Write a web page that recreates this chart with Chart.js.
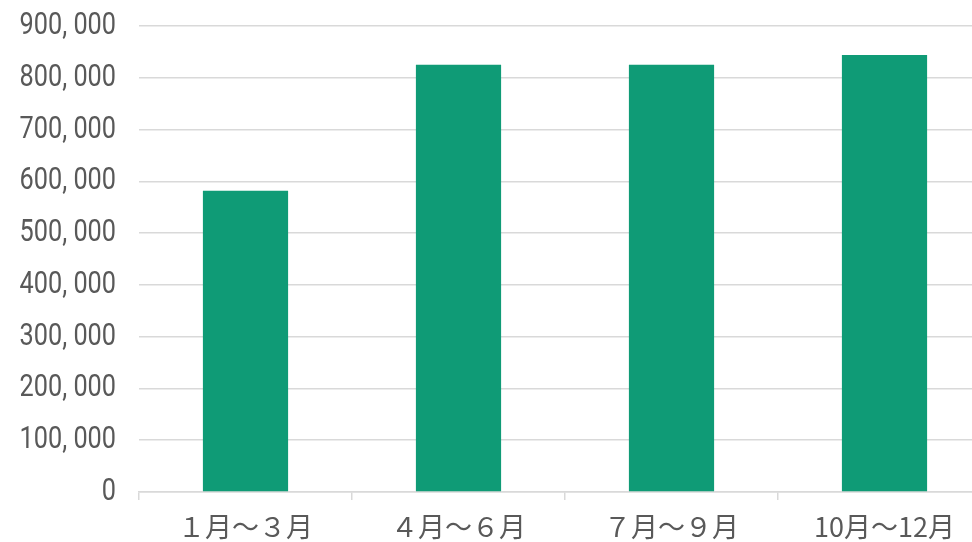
<!DOCTYPE html>
<html lang="ja">
<head>
<meta charset="UTF-8">
<title>四半期別</title>
<script src="https://cdn.jsdelivr.net/npm/chart.js@4/dist/chart.umd.min.js"></script>
<style>
  html, body { margin: 0; padding: 0; background: #fff; overflow: hidden; }
  #wrap { width: 1000px; height: 542px; }
</style>
</head>
<body>
<div id="wrap"><canvas id="chart" width="1000" height="542"></canvas></div>
<script>
// values
const quarters = ['１月～３月', '４月～６月', '７月～９月', '10月～12月'];
const counts = [582000, 825000, 825000, 844000];
const yMax = 900000;
const yStep = 100000;

// no condensed font installed, so squeeze the y labels a bit
class NarrowLinearScale extends Chart.LinearScale {
    drawLabels(chartArea) {
        const ctx = this.ctx;
        const x0 = this.right;
        ctx.save();
        ctx.translate(x0 - 23, 0);
        ctx.scale(0.79, 1);
        ctx.translate(-x0, 0);
        super.drawLabels(chartArea);
        ctx.restore();
    }
}
NarrowLinearScale.id = 'narrowLinear';
NarrowLinearScale.defaults = Chart.LinearScale.defaults;
Chart.register(NarrowLinearScale);

const ctx = document.getElementById('chart').getContext('2d');
const myChart = new Chart(ctx, {
    type: 'bar',
    data: {
        labels: quarters,
        datasets: [{
            data: counts,
            backgroundColor: '#0f9b76',
            borderWidth: 0,
            categoryPercentage: 1,
            barPercentage: 0.4
        }]
    },
    options: {
        responsive: false,
        animation: false,
        layout: { padding: { top: 26, right: 9, left: 0, bottom: 0 } },
        plugins: { legend: { display: false }, tooltip: { enabled: false } },
        scales: {
            x: {
                afterFit: s => { s.height = 50; },
                grid: { drawOnChartArea: false, color: '#d9d9d9', lineWidth: 1.5, tickLength: 8 },
                border: { color: '#d9d9d9', width: 1.5 },
                ticks: {
                    color: '#595959',
                    padding: 11,
                    font: { family: '"Noto Sans CJK JP"', size: 27 }
                }
            },
            y: {
                type: 'narrowLinear',
                min: 0,
                max: yMax,
                afterFit: s => { s.width = 139; },
                grid: { color: '#d9d9d9', lineWidth: 1.5, drawTicks: false },
                border: { display: false },
                ticks: {
                    stepSize: yStep,
                    color: '#595959',
                    padding: 0,
                    font: { family: 'Roboto', size: 32 },
                    callback: v => v.toLocaleString('en-US').replace(/,/g, ', ')
                }
            }
        }
    }
});
</script>
</body>
</html>
